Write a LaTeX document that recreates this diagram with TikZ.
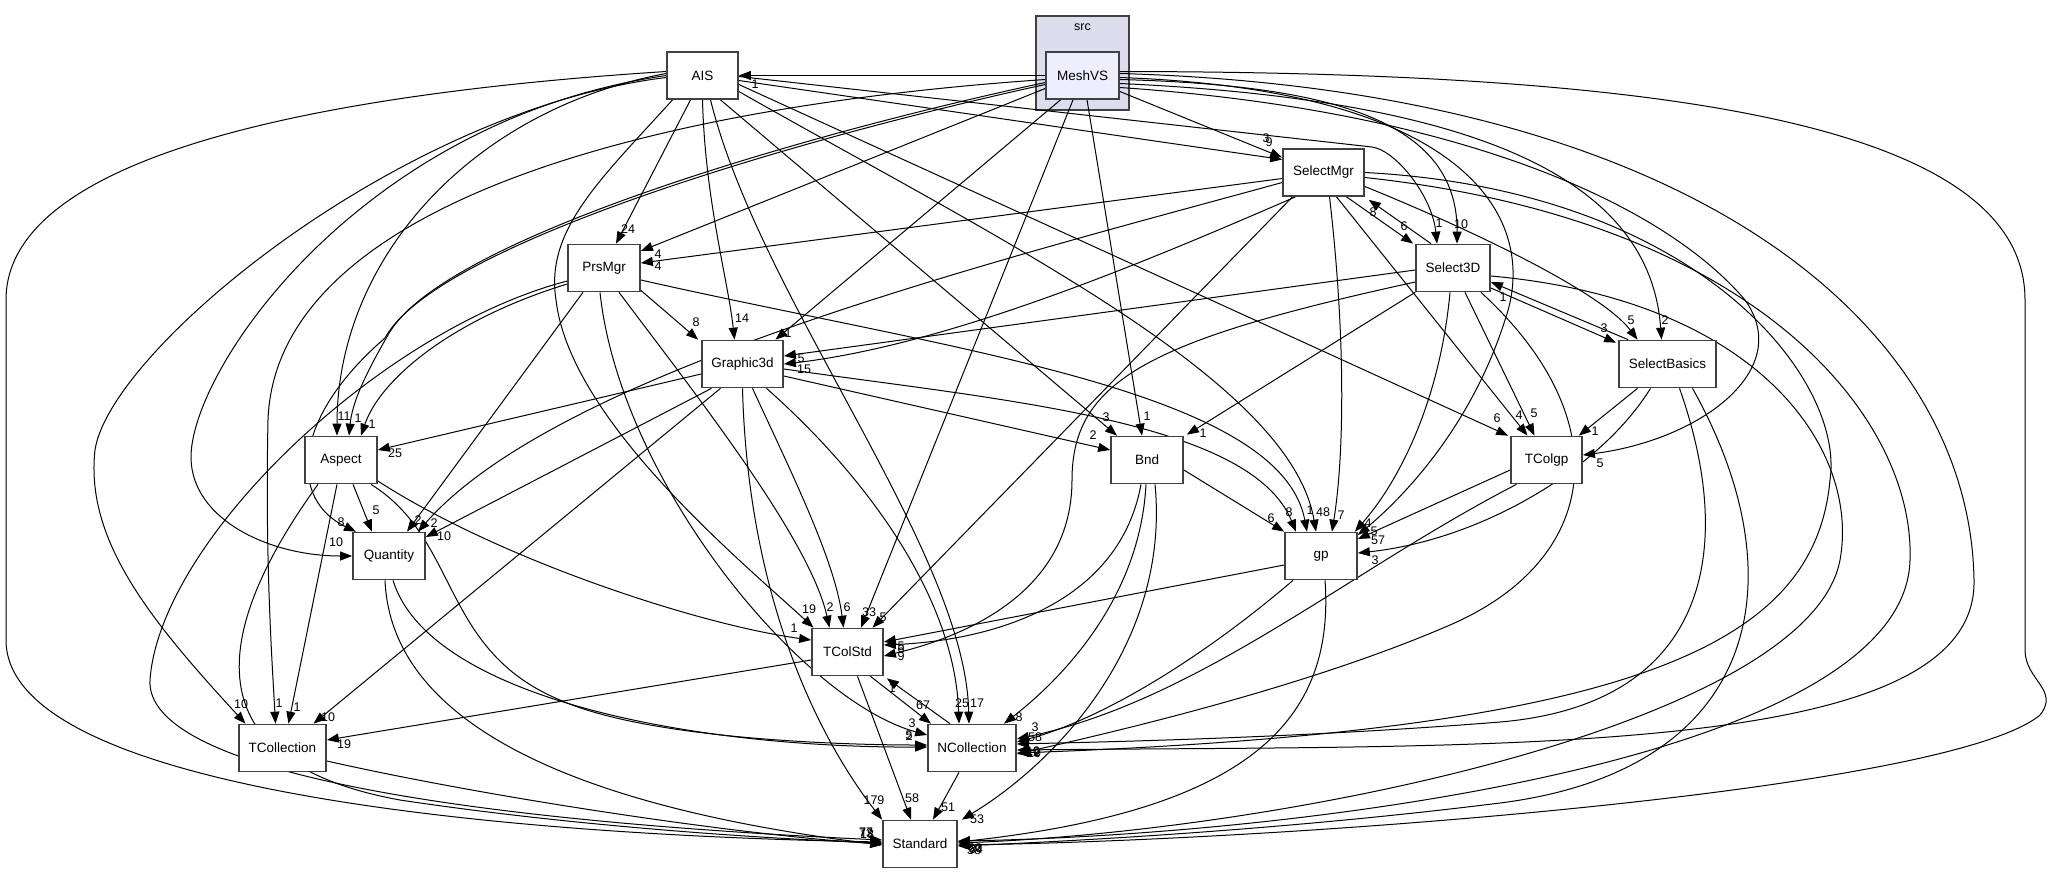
\documentclass[tikz,border=0pt]{standalone}
\usepackage{fontspec}
\setmainfont{Liberation Sans}
\usetikzlibrary{arrows.meta}
\definecolor{boxc}{RGB}{64,64,64}
\definecolor{clfill}{RGB}{221,221,238}
\definecolor{mfill}{RGB}{238,238,255}
\newcommand{\nfnt}{\fontsize{13.5}{15}\selectfont}
\newcommand{\lfnt}{\fontsize{12.5}{14}\selectfont}
\pgfdeclarelayer{bg}
\pgfdeclarelayer{edges}
\pgfsetlayers{bg,edges,main}
\tikzset{
  box/.style={draw=boxc, line width=1.7pt, fill=white, minimum height=47pt, inner sep=0pt, font=\nfnt},
  e/.style={line width=1pt, black, -{Triangle[length=12pt,width=9pt]}},
  lbl/.style={font=\lfnt, inner sep=0pt},
}
\begin{document}
\begin{tikzpicture}[x=1pt,y=-1pt]
\useasboundingbox (0,0) rectangle (2052,873);
\begin{pgfonlayer}{bg}
\fill[white] (0,0) rectangle (2052,873);
\node[draw=boxc, line width=1.7pt, fill=clfill, minimum width=93pt, minimum height=94pt, inner sep=0pt] (src) at (1082.5,63) {};
\end{pgfonlayer}
\node[font=\lfnt, inner sep=0pt] (srclbl) at (1082.5,27) {src};
% nodes
\node[box, fill=mfill, minimum width=73pt] (MeshVS) at (1082.5,75.5) {MeshVS};
\node[box, minimum width=71pt] (AIS) at (702.5,75.5) {AIS};
\node[box, minimum width=81pt] (SelectMgr) at (1323.5,172.5) {SelectMgr};
\node[box, minimum width=72pt] (PrsMgr) at (604,268) {PrsMgr};
\node[box, minimum width=74pt] (Select3D) at (1453,268) {Select3D};
\node[box, minimum width=81pt] (Graphic3d) at (742.5,364) {Graphic3d};
\node[box, minimum width=97pt] (SelectBasics) at (1667.5,364) {SelectBasics};
\node[box, minimum width=72pt] (Aspect) at (341,460) {Aspect};
\node[box, minimum width=72pt] (Bnd) at (1147,460) {Bnd};
\node[box, minimum width=71pt] (TColgp) at (1546.5,460) {TColgp};
\node[box, minimum width=72pt] (Quantity) at (389,556) {Quantity};
\node[box, minimum width=72pt] (gp) at (1321,556) {gp};
\node[box, minimum width=71pt] (TColStd) at (847.5,652) {TColStd};
\node[box, minimum width=87pt] (TCollection) at (282.5,748) {TCollection};
\node[box, minimum width=88pt] (NCollection) at (972,748) {NCollection};
\node[box, minimum width=74pt] (Standard) at (920,844) {Standard};

\begin{pgfonlayer}{edges}
% MeshVS
\draw[e] (MeshVS.west) -- (AIS.east);
\draw[e] ([yshift=-16pt]MeshVS.east) -- ([yshift=15pt]SelectMgr.west);
\draw[e] ([yshift=-13pt]MeshVS.west) -- ([yshift=17pt]PrsMgr.east);
\draw[e] ([yshift=-4pt]MeshVS.east) .. controls (1330,85) and (1458,120) .. ([xshift=4pt]Select3D.north);
\draw[e] ([xshift=-22pt]MeshVS.south) -- ([xshift=33pt]Graphic3d.north);
\draw[e] ([yshift=-8pt]MeshVS.east) .. controls (1480,100) and (1650,180) .. ([xshift=-6pt]SelectBasics.north);
\draw[e] ([yshift=-7pt]MeshVS.west) .. controls (800,135) and (440,240) .. (388,335) .. controls (362,380) and (352,405) .. ([xshift=8pt]Aspect.north);
\draw[e] ([yshift=-9pt]MeshVS.west) .. controls (800,138) and (436,244) .. (385,338) .. controls (290,420) and (290,500) .. ([xshift=-33pt]Quantity.north);
\draw[e] ([xshift=4.5pt]MeshVS.south) -- ([xshift=-5pt]Bnd.north);
\draw[e] ([xshift=-9.5pt]MeshVS.south) -- ([xshift=13.5pt]TColStd.north);
\draw[e] ([yshift=-12pt]MeshVS.east) .. controls (1450,110) and (1660,200) .. (1745,300) .. controls (1795,370) and (1700,440) .. ([yshift=5pt]TColgp.east);
\draw[e] ([yshift=-2pt]MeshVS.east) .. controls (1470,90) and (1540,220) .. (1505,320) .. controls (1470,430) and (1400,500) .. ([yshift=21pt]gp.east);
\draw[e] ([yshift=2pt]MeshVS.east) .. controls (1700,90) and (1970,330) .. (1974,580) .. controls (1978,760) and (1500,745) .. ([yshift=-2pt]NCollection.east);
\draw[e] ([yshift=4pt]MeshVS.east) .. controls (1650,72) and (2025,120) .. (2025,300) -- (2025,650) .. controls (2025,680) and (2060,690) .. (2040,715) .. controls (1950,790) and (1300,840) .. ([yshift=-1pt]Standard.east);
\draw[e] ([yshift=-4pt]MeshVS.west) .. controls (600,110) and (275,220) .. (268,420) .. controls (265,560) and (272,660) .. ([xshift=-7pt]TCollection.north);
% AIS
\draw[e] ([yshift=-5pt]AIS.east) -- ([yshift=13pt]SelectMgr.west);
\draw[e] ([xshift=-12pt]AIS.south) -- ([xshift=12pt]PrsMgr.north);
\draw[e] ([yshift=-1pt]AIS.east) -- (1372,147) .. controls (1395,150) and (1432,195) .. ([xshift=-16pt]Select3D.north);
\draw[e] (AIS.south) .. controls (705,200) and (728,280) .. ([xshift=-8pt]Graphic3d.north);
\draw[e] ([yshift=2pt]AIS.west) .. controls (470,110) and (337,260) .. ([xshift=-4pt]Aspect.north);
\draw[e] ([xshift=18pt]AIS.south) -- ([xshift=-30pt]Bnd.north);
\draw[e] ([yshift=-9pt]AIS.east) -- ([xshift=-2pt]TColgp.north west);
\draw[e] (AIS.west) .. controls (360,120) and (190,370) .. (191,458) .. controls (192,520) and (270,556) .. (Quantity.west);
\draw[e] ([yshift=-16pt]AIS.east) .. controls (1000,240) and (1290,380) .. ([xshift=-5pt]gp.north);
\draw[e] ([xshift=-30pt]AIS.south) .. controls (600,180) and (545,230) .. (556,300) .. controls (570,420) and (740,560) .. ([xshift=-34pt]TColStd.north);
\draw[e] ([yshift=-2pt]AIS.west) .. controls (400,110) and (110,350) .. (95,450) .. controls (85,540) and (150,620) .. ([xshift=-37pt]TCollection.north);
\draw[e] ([xshift=8pt]AIS.south) .. controls (760,300) and (965,550) .. ([xshift=-3pt]NCollection.north);
\draw[e] ([yshift=4pt]AIS.west) .. controls (300,95) and (6,160) .. (6,300) -- (6,640) .. controls (6,790) and (500,835) .. ([yshift=2pt]Standard.west);
% SelectMgr
\draw[e] ([yshift=-6pt]SelectMgr.west) -- ([yshift=5pt]PrsMgr.east);
\draw[e] ([xshift=23pt]SelectMgr.south) -- ([xshift=-2pt]Select3D.north west);
\draw[e] ([xshift=-22pt]Select3D.north) -- ([xshift=4pt,yshift=-3pt]SelectMgr.south east);
\draw[e] ([xshift=-28pt]SelectMgr.south) .. controls (1150,260) and (950,345) .. (Graphic3d.east);
\draw[e] ([yshift=-2pt]Select3D.west) -- ([yshift=8pt]Graphic3d.east);
\draw[e] ([yshift=-14pt]SelectMgr.east) .. controls (1460,225) and (1600,290) .. ([xshift=-30pt]SelectBasics.north);
\draw[e] ([xshift=13pt]SelectMgr.south) -- ([xshift=-19pt]TColgp.north);
\draw[e] ([xshift=6pt]SelectMgr.south) .. controls (1345,330) and (1345,450) .. ([xshift=11pt]gp.north);
\draw[e] ([xshift=-31pt]SelectMgr.south) -- ([xshift=25pt]TColStd.north);
\draw[e] ([yshift=-10pt]SelectMgr.west) .. controls (1000,260) and (560,370) .. ([xshift=29pt]Quantity.north);
\draw[e] (SelectMgr.east) .. controls (1700,190) and (1845,380) .. (1830,480) .. controls (1815,640) and (1650,730) .. ([yshift=-5pt]NCollection.east);
\draw[e] ([yshift=-5pt]SelectMgr.east) .. controls (1760,220) and (1915,420) .. (1910,560) .. controls (1905,760) and (1300,835) .. ([yshift=3pt]Standard.east);
% Select3D
\draw[e] ([yshift=-20pt]Select3D.east) -- ([xshift=-2pt,yshift=-3pt]SelectBasics.north west);
\draw[e] ([xshift=10pt]SelectBasics.north west) -- ([yshift=-14pt]Select3D.east);
\draw[e] (Select3D.south west) -- ([xshift=3pt,yshift=1pt]Bnd.north east);
\draw[e] ([xshift=12pt]Select3D.south) -- ([xshift=-12pt]TColgp.north);
\draw[e] ([xshift=-3pt]Select3D.south) .. controls (1440,400) and (1400,480) .. ([xshift=-3pt]gp.north east);
\draw[e] ([yshift=-14pt]Select3D.west) .. controls (1150,340) and (1072,380) .. (1072,480) .. controls (1072,600) and (950,640) .. ([yshift=-4pt]TColStd.east);
\draw[e] ([xshift=28pt]Select3D.south) .. controls (1620,420) and (1600,560) .. (1450,625) .. controls (1300,690) and (1100,735) .. ([yshift=-6pt]NCollection.east);
\draw[e] ([yshift=-8pt]Select3D.east) .. controls (1760,300) and (1860,450) .. (1840,560) .. controls (1810,720) and (1300,830) .. ([yshift=1pt]Standard.east);
% PrsMgr
\draw[e] ([yshift=2pt]PrsMgr.south east) -- ([xshift=-3pt]Graphic3d.north west);
\draw[e] ([yshift=-16pt]PrsMgr.west) .. controls (450,320) and (380,380) .. ([xshift=20pt]Aspect.north);
\draw[e] ([xshift=-21pt]PrsMgr.south) -- ([xshift=18pt]Quantity.north);
\draw[e] ([xshift=15pt]PrsMgr.south) .. controls (700,400) and (810,540) .. ([xshift=-18pt]TColStd.north);
\draw[e] ([xshift=-4pt]PrsMgr.south) .. controls (620,480) and (800,700) .. ([yshift=13pt]NCollection.west);
\draw[e] ([yshift=-12pt]PrsMgr.east) .. controls (950,350) and (1280,390) .. ([xshift=-14pt]gp.north);
\draw[e] ([yshift=-13pt]PrsMgr.west) .. controls (380,330) and (160,540) .. (150,680) .. controls (145,770) and (450,820) .. ([yshift=4pt]Standard.west);
% Graphic3d
\draw[e] ([yshift=-10pt]Graphic3d.west) -- ([yshift=10pt]Aspect.east);
\draw[e] ([yshift=-12pt]Graphic3d.east) -- ([yshift=10pt]Bnd.west);
\draw[e] ([yshift=-5pt]Graphic3d.east) .. controls (1000,400) and (1250,420) .. ([xshift=-25pt]gp.north);
\draw[e] ([xshift=-31pt]Graphic3d.south) -- ([yshift=19pt]Quantity.east);
\draw[e] ([xshift=-22pt]Graphic3d.south) -- ([xshift=31pt]TCollection.north);
\draw[e] ([xshift=10pt]Graphic3d.south) .. controls (790,470) and (835,560) .. ([xshift=-4pt]TColStd.north);
\draw[e] ([xshift=24pt]Graphic3d.south) .. controls (870,480) and (955,600) .. ([xshift=-13pt]NCollection.north);
\draw[e] (Graphic3d.south) .. controls (748,600) and (820,740) .. (Standard.north west);
% SelectBasics
\draw[e] ([xshift=-30pt]SelectBasics.south) -- ([xshift=-4pt]TColgp.north east);
\draw[e] ([xshift=-17pt]SelectBasics.south) .. controls (1600,470) and (1480,540) .. ([yshift=3pt]gp.east);
\draw[e] ([xshift=12pt]SelectBasics.south) .. controls (1740,560) and (1700,705) .. (1500,722) .. controls (1300,738) and (1100,742) .. ([yshift=4pt]NCollection.east);
\draw[e] ([xshift=25pt]SelectBasics.south) .. controls (1800,580) and (1760,770) .. (1500,803) .. controls (1300,828) and (1100,840) .. ([yshift=-2pt]Standard.east);
% Aspect
\draw[e] ([xshift=12pt]Aspect.south) -- ([xshift=-17pt]Quantity.north);
\draw[e] ([yshift=-21pt]Aspect.east) .. controls (500,560) and (700,625) .. ([yshift=12pt]TColStd.west);
\draw[e] ([xshift=-4pt]Aspect.south) -- ([xshift=6pt]TCollection.north);
\draw[e] ([xshift=30pt]Aspect.south) .. controls (460,540) and (440,650) .. (560,700) .. controls (650,740) and (850,745) .. ([yshift=3pt]NCollection.west);
\draw[e] ([xshift=-23pt]Aspect.south) .. controls (220,620) and (180,760) .. (400,800) .. controls (600,830) and (800,840) .. ([yshift=1pt]Standard.west);
% Bnd
\draw[e] ([yshift=-10pt]Bnd.east) -- (gp.north west);
\draw[e] ([xshift=-6pt]Bnd.south) .. controls (1120,600) and (1000,640) .. ([yshift=7pt]TColStd.east);
\draw[e] ([xshift=-1pt]Bnd.south) .. controls (1140,600) and (1060,680) .. ([xshift=32pt]NCollection.north);
\draw[e] ([xshift=8pt]Bnd.south) .. controls (1170,640) and (1060,760) .. ([xshift=4pt]Standard.north east);
% TColgp
\draw[e] ([yshift=-10pt]TColgp.west) -- ([yshift=17pt]gp.east);
\draw[e] ([xshift=-30pt]TColgp.south) .. controls (1350,570) and (1200,700) .. ([yshift=9pt]NCollection.east);
% Quantity
\draw[e] ([xshift=4pt]Quantity.south) .. controls (430,700) and (700,748) .. ([yshift=1pt]NCollection.west);
\draw[e] ([xshift=-4pt]Quantity.south) .. controls (390,700) and (520,800) .. ([yshift=-1pt]Standard.west);
% gp
\draw[e] ([yshift=-9pt]gp.west) -- ([yshift=10pt]TColStd.east);
\draw[e] ([xshift=-28pt]gp.south) .. controls (1200,660) and (1100,720) .. ([yshift=6pt]NCollection.east);
\draw[e] ([xshift=4pt]gp.south) .. controls (1335,720) and (1250,810) .. ([yshift=2pt]Standard.east);
% TColStd, NCollection, TCollection
\draw[e] ([yshift=-8pt]TColStd.west) -- ([yshift=8pt]TCollection.east);
\draw[e] ([xshift=23pt]TColStd.south) -- ([xshift=-41pt]NCollection.north);
\draw[e] ([xshift=-22pt]NCollection.north) -- ([xshift=3pt,yshift=-2pt]TColStd.south east);
\draw[e] ([xshift=10pt]TColStd.south) -- ([xshift=-9pt]Standard.north);
\draw[e] ([xshift=-13pt]NCollection.south) -- ([xshift=13pt]Standard.north);
\draw[e] ([yshift=-13pt]TCollection.east) .. controls (500,800) and (750,836) .. (Standard.west);
\end{pgfonlayer}

% edge labels
\node[lbl] (l01) at (755,84) {1};
\node[lbl] (l02) at (1266,138) {3};
\node[lbl] (l03) at (1269,142) {9};
\node[lbl] (l04) at (658,254) {4};
\node[lbl] (l05) at (658,266) {4};
\node[lbl] (l06) at (628,229) {24};
\node[lbl] (l07) at (742,318) {14};
\node[lbl] (l08) at (788,333) {1};
\node[lbl] (l09) at (696,322) {8};
\node[lbl] (l10) at (801,358) {5};
\node[lbl] (l11) at (804,369) {15};
\node[lbl] (l12) at (1404,226) {6};
\node[lbl] (l13) at (1373,212) {8};
\node[lbl] (l14) at (1439,223) {1};
\node[lbl] (l15) at (1461,224) {10};
\node[lbl] (l16) at (1503,297) {1};
\node[lbl] (l17) at (1604,328) {3};
\node[lbl] (l18) at (1631,320) {5};
\node[lbl] (l19) at (1665,320) {2};
\node[lbl] (l20) at (1497,418) {6};
\node[lbl] (l21) at (1519,415) {4};
\node[lbl] (l22) at (1534,413) {5};
\node[lbl] (l23) at (1595,431) {1};
\node[lbl] (l24) at (1600,463) {5};
\node[lbl] (l25) at (1106,417) {3};
\node[lbl] (l26) at (1147,416) {1};
\node[lbl] (l27) at (1203,433) {1};
\node[lbl] (l28) at (1093,435) {2};
\node[lbl] (l29) at (1271,518) {6};
\node[lbl] (l30) at (1289,512) {8};
\node[lbl] (l31) at (1310,510) {1};
\node[lbl] (l32) at (1323,512) {48};
\node[lbl] (l33) at (1341,515) {7};
\node[lbl] (l34) at (1368,523) {4};
\node[lbl] (l35) at (1374,531) {5};
\node[lbl] (l36) at (1378,540) {57};
\node[lbl] (l37) at (1375,560) {3};
\node[lbl] (l38) at (344,416) {11};
\node[lbl] (l39) at (358,418) {1};
\node[lbl] (l40) at (372,424) {1};
\node[lbl] (l41) at (395,453) {25};
\node[lbl] (l42) at (341,522) {8};
\node[lbl] (l43) at (336,542) {10};
\node[lbl] (l44) at (376,510) {5};
\node[lbl] (l45) at (418,520) {2};
\node[lbl] (l46) at (434,523) {2};
\node[lbl] (l47) at (444,536) {10};
\node[lbl] (l48) at (809,609) {19};
\node[lbl] (l49) at (830,607) {2};
\node[lbl] (l50) at (847,607) {6};
\node[lbl] (l51) at (869,612) {33};
\node[lbl] (l52) at (883,617) {5};
\node[lbl] (l53) at (794,628) {1};
\node[lbl] (l54) at (901,646) {5};
\node[lbl] (l55) at (901,649) {6};
\node[lbl] (l56) at (901,656) {9};
\node[lbl] (l57) at (241,704) {10};
\node[lbl] (l58) at (279,703) {1};
\node[lbl] (l59) at (297,707) {1};
\node[lbl] (l60) at (328,717) {10};
\node[lbl] (l61) at (344,744) {19};
\node[lbl] (l62) at (923,705) {67};
\node[lbl] (l63) at (892,688) {1};
\node[lbl] (l64) at (962,703) {25};
\node[lbl] (l65) at (977,703) {17};
\node[lbl] (l66) at (1019,717) {8};
\node[lbl] (l67) at (912,723) {3};
\node[lbl] (l68) at (909,735) {5};
\node[lbl] (l69) at (909,736) {2};
\node[lbl] (l70) at (1035,727) {3};
\node[lbl] (l71) at (1035,737) {58};
\node[lbl] (l72) at (1033,751) {10};
\node[lbl] (l73) at (1033,752) {12};
\node[lbl] (l74) at (1034,753) {19};
\node[lbl] (l75) at (874,800) {179};
\node[lbl] (l76) at (912,798) {58};
\node[lbl] (l77) at (948,807) {51};
\node[lbl] (l78) at (977,819) {53};
\node[lbl] (l79) at (866,832) {77};
\node[lbl] (l80) at (866,833) {73};
\node[lbl] (l81) at (867,834) {18};
\node[lbl] (l82) at (975,848) {60};
\node[lbl] (l83) at (976,849) {84};
\node[lbl] (l84) at (974,850) {38};
\end{tikzpicture}
\end{document}
